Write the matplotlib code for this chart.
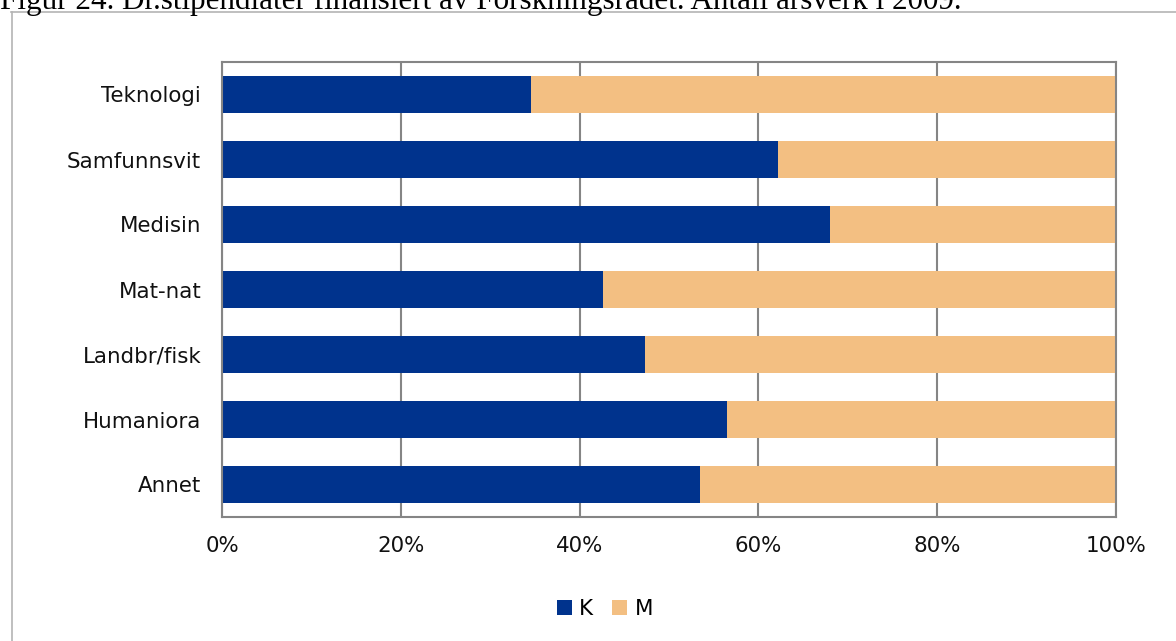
import matplotlib
matplotlib.use("Agg")
import matplotlib.pyplot as plt
from matplotlib.lines import Line2D
from matplotlib.ticker import PercentFormatter

fields = ["Teknologi", "Samfunnsvit", "Medisin", "Mat-nat",
          "Landbr/fisk", "Humaniora", "Annet"]
share_k = [34.6, 62.2, 68.0, 42.6, 47.3, 56.5, 53.5]
share_m = [100 - k for k in share_k]

BLUE = "#00338D"
SAND = "#F3BF82"
GRID = "#858585"

W, H = 1176, 641
fig = plt.figure(figsize=(W / 100, H / 100), dpi=100)
ax = fig.add_axes([222 / W, 1 - 517 / H, (1116 - 222) / W, (517 - 62) / H])

pos = range(len(fields))
ax.barh(pos, share_k, height=0.57, color=BLUE, label="K")
ax.barh(pos, share_m, left=share_k, height=0.57, color=SAND, label="M")

ax.set_xlim(0, 100)
ax.set_ylim(len(fields) - 0.5, -0.5)
ax.set_yticks(list(pos), fields)
ax.set_xticks(range(0, 101, 20))
ax.xaxis.set_major_formatter(PercentFormatter(decimals=0))
ax.tick_params(axis="both", length=0, labelsize=15.4, colors="#111111")
ax.tick_params(axis="x", pad=14)
ax.tick_params(axis="y", pad=15)
ax.grid(axis="x", color=GRID, lw=1.5)
ax.set_axisbelow(True)
for s in ax.spines.values():
    s.set_color(GRID)
    s.set_linewidth(1.5)

ax.legend(loc="center", bbox_to_anchor=(605 / W, 1 - 609 / H),
          bbox_transform=fig.transFigure, ncol=2, frameon=False,
          fontsize=15.4, handlelength=0.7, handleheight=0.7,
          handletextpad=0.35, columnspacing=0.9)

# surrounding chart frame (left and top edges)
fig.add_artist(Line2D([11.5 / W, 11.5 / W], [0, 1 - 12 / H],
                      transform=fig.transFigure, color="#b4b4b4", lw=1.2))
fig.add_artist(Line2D([11 / W, 1], [1 - 12 / H, 1 - 12 / H],
                      transform=fig.transFigure, color="#b4b4b4", lw=1.2))

fig.text(0, 1 - 9 / H,
         "Figur 24. Dr.stipendiater finansiert av Forskningsrådet. "
         "Antall årsverk i 2009.",
         family="Liberation Serif", fontsize=22.4, va="baseline", ha="left")

fig.savefig("out.png", dpi=100)
